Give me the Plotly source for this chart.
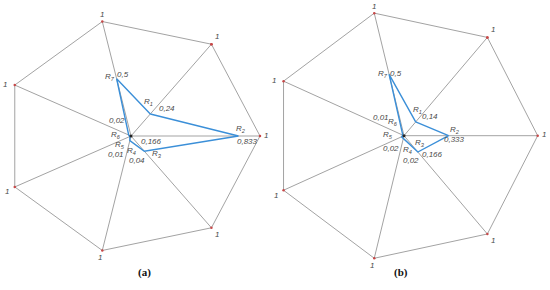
import numpy as np
import plotly.graph_objects as go

# ---- data ----
criteria = ["R1", "R2", "R3", "R4", "R5", "R6", "R7"]
values_a = [0.24, 0.833, 0.166, 0.04, 0.01, 0.02, 0.5]
labels_a = ["0,24", "0,833", "0,166", "0,04", "0,01", "0,02", "0,5"]
values_b = [0.14, 0.333, 0.166, 0.02, 0.02, 0.01, 0.5]
labels_b = ["0,14", "0,333", "0,166", "0,02", "0,02", "0,01", "0,5"]
max_value = 1
captions = ["(a)", "(b)"]

# ---- layout / style ----
GRAY = "#a3a3a3"
BLUE = "#3b8fd8"
TXT = "#4a4a4a"
FONT = "Liberation Sans Narrow, Liberation Sans, DejaVu Sans"

n = len(criteria)
ang = np.deg2rad(360 / n - np.arange(n) * 360 / n)  # R1 upper right, clockwise

def xy(vals):
    v = np.asarray(vals, dtype=float)
    return v * np.cos(ang), v * np.sin(ang)

# label offsets (pixels) for "1" at vertices
one_off = [(6, 8), (6, 1), (6, -7), (-2, -7), (-8, -5), (-10, 1), (0, 7)]
# offsets for R labels and value labels per panel
r_off_a = [(-2, 12), (3, 7), (13, -3), (2, -10), (-10, -8), (-13, 0), (-7, 2)]
v_off_a = [(17, 5), (9, -5), (7, 10), (7, -20), (-14, -18), (-12, 14), (6, 4)]
r_off_b = [(2, 12), (6, 6), (2, 9), (4, -12), (-14, 2), (-10, 13), (-6, 0)]
v_off_b = [(14, 5), (6, -4), (15, -2), (8, -22), (-11, -12), (-22, 18), (7, 1)]

fig = go.Figure()
annotations = []
lab_font = dict(size=8, color=TXT, family=FONT, style="italic")

panels = [
    ("x", "y", values_a, labels_a, r_off_a, v_off_a),
    ("x2", "y2", values_b, labels_b, r_off_b, v_off_b),
]

for pi, (xa, ya, vals, labs, roff, voff) in enumerate(panels):
    ox, oy = xy([max_value] * n)
    # spokes
    sx, sy = [], []
    for i in range(n):
        sx += [0, ox[i], None]
        sy += [0, oy[i], None]
    fig.add_trace(go.Scatter(x=sx, y=sy, mode="lines", xaxis=xa, yaxis=ya,
                             line=dict(color=GRAY, width=1), hoverinfo="skip", showlegend=False))
    # outer polygon
    fig.add_trace(go.Scatter(x=list(ox) + [ox[0]], y=list(oy) + [oy[0]], mode="lines+markers",
                             xaxis=xa, yaxis=ya, line=dict(color=GRAY, width=1),
                             marker=dict(color="#c84848", size=2.5),
                             hoverinfo="skip", showlegend=False))
    # data polygon
    dx, dy = xy(vals)
    fig.add_trace(go.Scatter(x=list(dx) + [dx[0]], y=list(dy) + [dy[0]], mode="lines",
                             xaxis=xa, yaxis=ya, line=dict(color=BLUE, width=1.4),
                             hoverinfo="skip", showlegend=False))
    fig.add_trace(go.Scatter(x=[0], y=[0], mode="markers", xaxis=xa, yaxis=ya,
                             marker=dict(color="#222", size=3), hoverinfo="skip", showlegend=False))
    for i in range(n):
        annotations.append(dict(x=ox[i], y=oy[i], xref=xa, yref=ya, text="1",
                                showarrow=False, xshift=one_off[i][0], yshift=one_off[i][1],
                                font=lab_font))
        annotations.append(dict(x=dx[i], y=dy[i], xref=xa, yref=ya,
                                text="R<sub>%s</sub>" % criteria[i][1:],
                                showarrow=False, xshift=roff[i][0], yshift=roff[i][1],
                                font=lab_font))
        annotations.append(dict(x=dx[i], y=dy[i], xref=xa, yref=ya, text=labs[i],
                                showarrow=False, xshift=voff[i][0], yshift=voff[i][1],
                                font=lab_font))

annotations.append(dict(x=136 / 550, y=1 - 281 / 290, xref="paper", yref="paper", text=captions[0],
                        showarrow=False,
                        font=dict(size=11, color="#111", family="Liberation Serif", weight="bold")))
annotations.append(dict(x=410 / 550, y=1 - 281 / 290, xref="paper", yref="paper", text=captions[1],
                        showarrow=False,
                        font=dict(size=11, color="#111", family="Liberation Serif", weight="bold")))

ax = dict(visible=False, showgrid=False, zeroline=False, fixedrange=True)
fig.update_layout(
    width=550, height=290,
    margin=dict(l=0, r=0, t=0, b=0),
    paper_bgcolor="white", plot_bgcolor="white",
    xaxis=dict(ax, domain=[0, 0.5], range=[-131 / 129, 144 / 129]),
    yaxis=dict(ax, domain=[0, 1], range=[(136 - 290) / 117.4, 136 / 117.4]),
    xaxis2=dict(ax, domain=[0.5, 1], range=[(275 - 404) / 133.7, (550 - 404) / 133.7]),
    yaxis2=dict(ax, domain=[0, 1], range=[(135.7 - 290) / 125.7, 135.7 / 125.7]),
    annotations=annotations,
    showlegend=False,
)

fig.write_html("out.html", config={"displayModeBar": False, "staticPlot": True},
               post_script="document.body.style.margin='0';document.body.style.overflow='hidden';")
